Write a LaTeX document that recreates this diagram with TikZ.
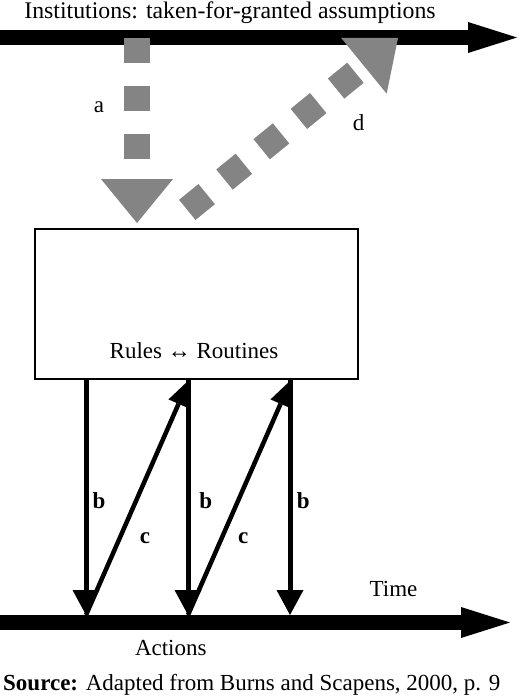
\documentclass[tikz,border=0pt]{standalone}
\usepackage{fontspec}
\setmainfont{Liberation Serif}
\usetikzlibrary{arrows.meta}
\definecolor{greyarrow}{HTML}{848484}
\tikzset{
  timeline/.style={line width=15pt, black, -{Triangle[length=49pt,width=31pt,line width=0pt]}},
  influence/.style={line width=26pt, greyarrow, dash pattern=on 25pt off 23pt, line cap=butt,
    -{Triangle[length=44pt,width=72pt,line width=0pt]}},
  barrow/.style={line width=5pt, black, -{Triangle[length=25pt,width=27pt,line width=0pt]}},
  carrow/.style={line width=4.5pt, black, -{Triangle[length=26pt,width=22pt,line width=0pt]}},
  lbl/.style={font=\fontsize{23}{27}\selectfont, inner sep=0pt, anchor=base},
  blbl/.style={lbl, font=\fontsize{23}{27}\selectfont\bfseries},
}
\begin{document}
\begin{tikzpicture}[x=1pt,y=-1pt]
\useasboundingbox (0,0) rectangle (520,696);
% coordinates
\coordinate (instL) at (0,37.5);
\coordinate (instR) at (517,37.5);
\coordinate (actL) at (0,622.5);
\coordinate (actR) at (510,622.5);
\coordinate (aS) at (137,37.5);
\coordinate (aE) at (137,223);
\coordinate (dS) at (187.3,209.9);
\coordinate (dE) at (398,38);
% box
\node[draw, line width=2pt, minimum width=323pt, minimum height=150pt, inner sep=0pt] (box) at (196.5,303.5) {};
\node[lbl] (rr) at (194,358.3) {Rules ↔ Routines};
% timelines
\draw[timeline] (instL) -- (instR);
\draw[timeline] (actL) -- (actR);
% institutional influences
\draw[influence] (aS) -- (aE);
\draw[influence] (dS) -- (dE);
% b arrows
\coordinate (b1t) at (86,379);  \coordinate (b1b) at (86,615);
\coordinate (b2t) at (188,379); \coordinate (b2b) at (188,615);
\coordinate (b3t) at (290,379); \coordinate (b3b) at (290,615);
\draw[barrow] (b1t) -- (b1b);
\draw[barrow] (b2t) -- (b2b);
\draw[barrow] (b3t) -- (b3b);
% c arrows
\coordinate (c1t) at (189,380); \coordinate (c2t) at (291,380);
\draw[carrow] (b1b) -- (c1t);
\draw[carrow] (b2b) -- (c2t);
% labels
\node[lbl, font=\fontsize{23.8}{28}\selectfont] (inst) at (230,18.5) {Institutions: taken-for-granted assumptions};
\node[lbl] (la) at (99,112) {a};
\node[lbl] (ld) at (358.5,130) {d};
\node[blbl] (lb1) at (99,508.3) {b};
\node[blbl] (lb2) at (205.7,508.3) {b};
\node[blbl] (lb3) at (303.3,508.3) {b};
\node[blbl] (lc1) at (145,543.3) {c};
\node[blbl] (lc2) at (243.3,543.3) {c};
\node[lbl] (time) at (393.5,596.7) {Time};
\node[lbl] (actions) at (170.8,655.7) {Actions};
\node[lbl, anchor=base west] (src) at (3,690) {\textbf{Source:} Adapted from Burns and Scapens, 2000, p. 9};
\end{tikzpicture}
\end{document}
